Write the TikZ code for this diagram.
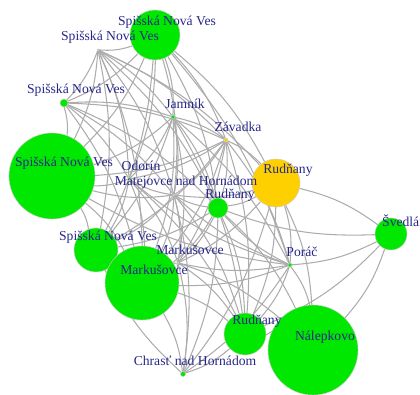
\documentclass[tikz,border=0pt]{standalone}
\usepackage{fontspec}
\setmainfont{Liberation Serif}
\usetikzlibrary{calc,backgrounds}
\definecolor{vgreen}{RGB}{0,232,0}
\definecolor{vgold}{RGB}{255,208,0}
\definecolor{lblblue}{RGB}{38,38,138}
\tikzset{
  vtx/.style={circle, draw=white!80!black, line width=0.3pt, inner sep=0pt},
  lbl/.style={font=\fontsize{9.7}{11}\selectfont, text=lblblue, inner sep=0pt},
  link/.style={draw=gray!65, line width=0.75pt, bend left=11},
}
\newcommand{\vertex}[5]{\node[vtx, fill=#5, minimum size=#4*0.05cm] (#1) at (#2,#3) {};}
\newcommand{\vlabel}[2]{\node[lbl] (#1-l) at ($(#1)+(12,-13)$) {#2};}

\begin{document}
\begin{tikzpicture}[x=0.025cm, y=-0.025cm]
  \useasboundingbox (0,0) rectangle (420,394);

  %% ---- vertices (pixel grid, y downwards) ----
  \vertex{sA}{155}{35}{25}{vgreen}
  \vertex{sB}{98}{50}{1}{vgreen}
  \vertex{sC}{64}{103}{4}{vgreen}
  \vertex{jam}{173}{117}{2}{vgreen}
  \vertex{sD}{52}{176}{43}{vgreen}
  \vertex{odo}{129}{179}{1.5}{vgreen}
  \vertex{mat}{174}{195}{1}{vgreen}
  \vertex{rudS}{218}{208}{10}{vgreen}
  \vertex{zav}{226}{140}{2}{vgold}
  \vertex{rudY}{276}{183}{24}{vgold}
  \vertex{sve}{391}{234}{16}{vgreen}
  \vertex{por}{290}{265}{2}{vgreen}
  \vertex{rudM}{245}{334}{21}{vgreen}
  \vertex{nal}{313}{350}{45}{vgreen}
  \vertex{sE}{96}{250}{22}{vgreen}
  \vertex{marB}{142}{283}{37}{vgreen}
  \vertex{marH}{178}{263}{1}{vgreen}
  \vertex{chr}{183}{374}{2.5}{vgreen}

  %% ---- edges, behind the vertices ----
  \begin{pgfonlayer}{background}
    \foreach \a/\b in {sA/sB, sA/sC, sA/jam, sA/zav, sA/rudY, sA/rudS, sA/mat,
        sA/odo, sA/por, sA/sD, sA/sE,
        sB/sC, sB/jam, sB/sD, sB/odo, sB/mat, sB/rudS, sB/zav, sB/marB, sB/sE, sB/rudY,
        sC/jam, sC/sD, sC/mat, sC/zav, sC/rudS, sC/marB, sC/odo,
        jam/zav, jam/rudS, jam/mat, jam/odo, jam/marB, jam/sE, jam/rudM, jam/por,
        jam/sD, jam/marH,
        zav/rudY, zav/rudS, zav/mat, zav/odo, zav/marB, zav/sE, zav/marH, zav/por,
        zav/rudM, zav/sD,
        rudY/sve, rudY/por, rudY/nal, rudY/rudS, rudY/mat, rudY/marH, rudY/rudM, rudY/chr,
        sve/por, sve/nal, sve/rudM, sve/rudS,
        por/nal, por/rudM, por/mat, por/marH, por/marB, por/rudS, por/odo, por/sD, por/chr,
        rudS/mat, rudS/marH, rudS/marB, rudS/rudM, rudS/chr, rudS/sE, rudS/nal,
        mat/odo, mat/marH, mat/marB, mat/sE, mat/chr, mat/rudM, mat/sD,
        odo/sD, odo/sE, odo/marB, odo/marH, odo/rudM,
        marH/marB, marH/sE, marH/chr, marH/rudM, marH/nal,
        marB/chr, marB/rudM, marB/sE, rudM/nal, rudM/chr, chr/sE, sD/sE, sD/marB}
      \draw[link] (\a) to (\b);
  \end{pgfonlayer}

  %% ---- labels ----
  \vlabel{sA}{Spišská Nová Ves}
  \vlabel{sB}{Spišská Nová Ves}
  \vlabel{sC}{Spišská Nová Ves}
  \vlabel{jam}{Jamník}
  \vlabel{sD}{Spišská Nová Ves}
  \vlabel{odo}{Odorín}
  \vlabel{mat}{Matejovce nad Hornádom}
  \vlabel{rudS}{Rudňany}
  \vlabel{zav}{Závadka}
  \vlabel{rudY}{Rudňany}
  \vlabel{sve}{Švedlár}
  \vlabel{por}{Poráč}
  \vlabel{rudM}{Rudňany}
  \vlabel{nal}{Nálepkovo}
  \vlabel{sE}{Spišská Nová Ves}
  \vlabel{marB}{Markušovce}
  \vlabel{marH}{Markušovce}
  \vlabel{chr}{Chrasť nad Hornádom}
\end{tikzpicture}
\end{document}
